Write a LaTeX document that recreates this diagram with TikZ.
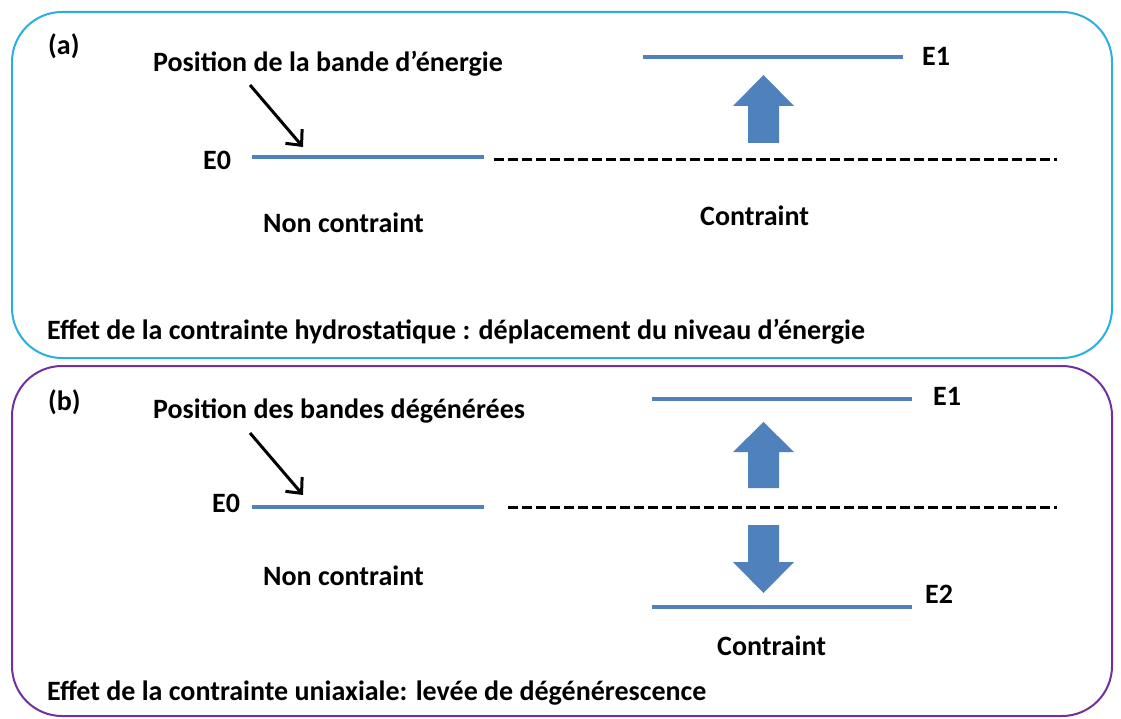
\documentclass[tikz,border=0pt]{standalone}
\usepackage{fontspec}
\setmainfont{Carlito}
\usetikzlibrary{positioning, arrows.meta}
\definecolor{boxcyan}{RGB}{40,176,222}
\definecolor{boxpurple}{RGB}{112,48,160}
\definecolor{bandblue}{RGB}{79,129,189}
\tikzset{
  lbl/.style={font=\bfseries\fontsize{28}{32}\selectfont, inner sep=0pt, anchor=base west},
  band/.style={bandblue, line width=4pt},
  reflevel/.style={black, line width=3pt, dash pattern=on 10pt off 4pt},
  pointer/.style={black, line width=3pt, -{Straight Barb[length=12pt, width=22pt]}},
  frame/.style={line width=2pt, rounded corners=50pt},
  blockarrow/.style={fill=bandblue},
}
\begin{document}
\begin{tikzpicture}[x=1pt, y=-1pt]
    \useasboundingbox (0,0) rectangle (1121,719);

    % Panel (a): hydrostatic strain
    \draw[frame, boxcyan] (12,12) rectangle (1112,358);
    \node[lbl] (tagA) at (48,55) {(a)};
    \node[lbl] (posA) at (153,72) {Position de la bande d’énergie};

    % unstrained level and reference line
    \node[lbl] (e0A) at (203,170) {E0};
    \coordinate (e0Al) at (252,157);
    \coordinate (e0Ar) at (484,157);
    \draw[band] (e0Al) -- (e0Ar);
    \coordinate (refAl) at (494,160);
    \coordinate (refAr) at (1057,160);
    \draw[reflevel] (refAl) -- (refAr);

    % pointer to the band
    \coordinate (ptrAs) at (250,85);
    \coordinate (ptrAe) at (303,147);
    \draw[pointer] (ptrAs) -- (ptrAe);

    % strained level E1
    \coordinate (e1Al) at (643,57);
    \coordinate (e1Ar) at (903,57);
    \draw[band] (e1Al) -- (e1Ar);
    \node[lbl] (e1A) at (922,66) {E1};

    % shift arrow
    \fill[blockarrow] (748,143) -- (748,106) -- (733,106) -- (763.5,75)
                      -- (794,106) -- (779,106) -- (779,143) -- cycle;

    \node[lbl] (freeA) at (263,233) {Non contraint};
    \node[lbl] (strA) at (700,226) {Contraint};
    \node[lbl] (capA) at (47,339) {Effet de la contrainte hydrostatique : déplacement du niveau d’énergie};

    % Panel (b): uniaxial strain
    \draw[frame, boxpurple] (12,366) rectangle (1112,716);
    \node[lbl] (tagB) at (48,410) {(b)};
    \node[lbl] (posB) at (153,418) {Position des bandes dégénérées};

    \node[lbl] (e0B) at (212,512) {E0};
    \coordinate (e0Bl) at (252,507);
    \coordinate (e0Br) at (484,507);
    \draw[band] (e0Bl) -- (e0Br);
    \coordinate (refBl) at (508,507);
    \coordinate (refBr) at (1057,507);
    \draw[reflevel] (refBl) -- (refBr);

    \coordinate (ptrBs) at (250,433);
    \coordinate (ptrBe) at (303,495);
    \draw[pointer] (ptrBs) -- (ptrBe);

    % split levels E1 / E2
    \coordinate (e1Bl) at (652,399);
    \coordinate (e1Br) at (912,399);
    \draw[band] (e1Bl) -- (e1Br);
    \node[lbl] (e1B) at (933,405) {E1};
    \coordinate (e2Bl) at (652,607);
    \coordinate (e2Br) at (912,607);
    \draw[band] (e2Bl) -- (e2Br);
    \node[lbl] (e2B) at (925,603) {E2};

    \fill[blockarrow] (748,488) -- (748,452) -- (733,452) -- (763.5,422)
                      -- (794,452) -- (779,452) -- (779,488) -- cycle;
    \fill[blockarrow] (748,525) -- (748,562) -- (733,562) -- (763.5,593)
                      -- (794,562) -- (779,562) -- (779,525) -- cycle;

    \node[lbl] (freeB) at (263,585) {Non contraint};
    \node[lbl] (strB) at (717,655) {Contraint};
    \node[lbl] (capB) at (47,700) {Effet de la contrainte uniaxiale: levée de dégénérescence};

\end{tikzpicture}
\end{document}
